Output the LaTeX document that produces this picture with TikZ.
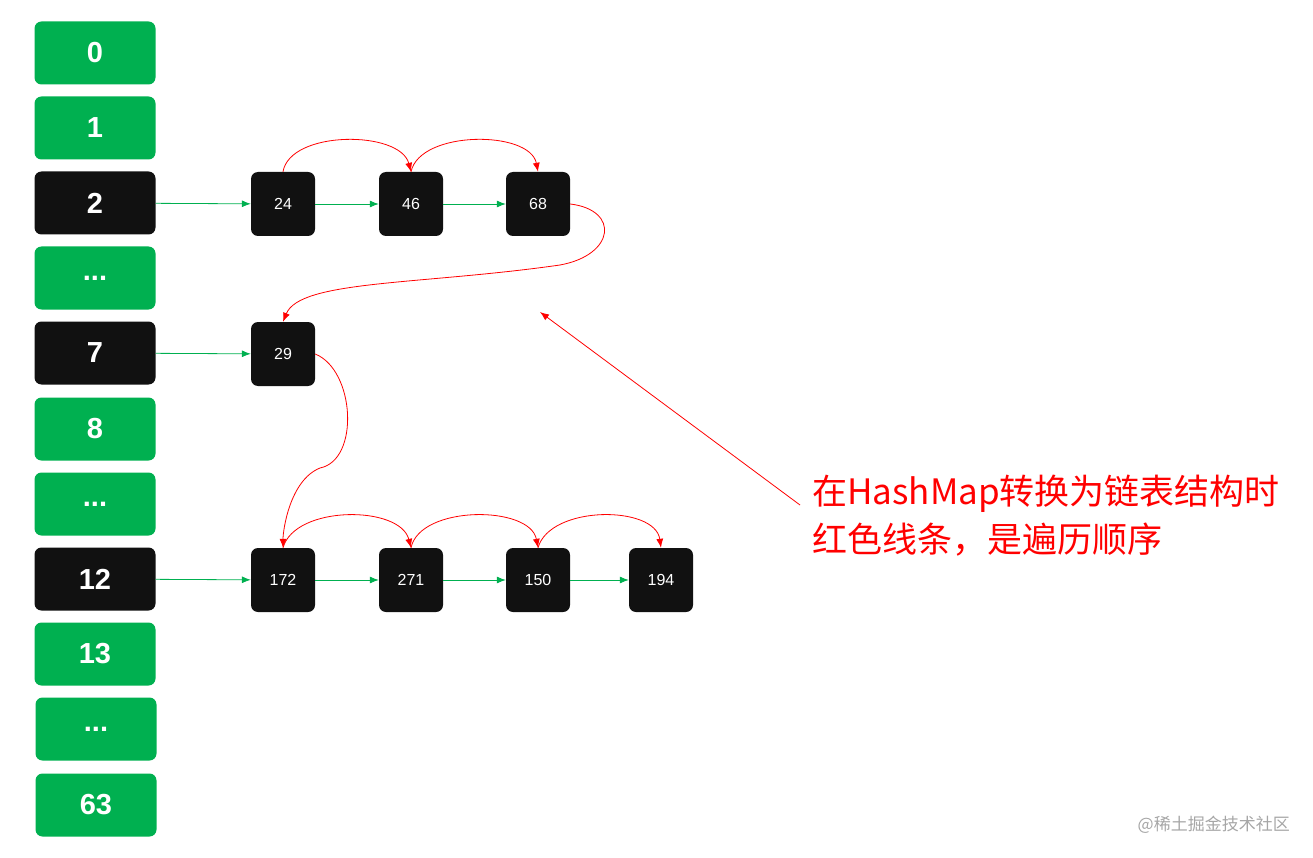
\documentclass[tikz,border=0pt]{standalone}
\usepackage{fontspec}
\setmainfont{Liberation Sans}
\newfontfamily\cjk{Noto Sans CJK SC}
\usetikzlibrary{arrows.meta}
\definecolor{gr}{HTML}{00B050}
\definecolor{bk}{HTML}{111111}
\begin{document}
\begin{tikzpicture}[x=1pt,y=-1pt,
 bucket/.style={rounded corners=7pt,minimum width=121pt,minimum height=63pt,inner sep=0pt,text=white,font=\fontsize{29}{29}\selectfont\bfseries},
 gb/.style={bucket,fill=gr},
 kb/.style={bucket,fill=bk},
 item/.style={rounded corners=7pt,fill=bk,minimum width=64pt,minimum height=64pt,inner sep=0pt,text=white,font=\fontsize{16}{16}\selectfont},
 garr/.style={draw=gr,line width=0.8pt,-{Latex[length=9pt,width=7pt]}},
 rarr/.style={draw=red,line width=0.8pt,-{Latex[length=9pt,width=7pt]}}]
\useasboundingbox (0,0) rectangle (1313,858);
\node[gb] (b0) at (95,53) {0};
\node[gb] (b1) at (95,128) {1};
\node[kb] (b2) at (95,203) {2};
\node[gb] (b3) at (95,278) {...};
\node[kb] (b7) at (95,353) {7};
\node[gb] (b8) at (95,429) {8};
\node[gb] (b9) at (95,504) {...};
\node[kb] (b12) at (95,579) {12};
\node[gb] (b13) at (95,654) {13};
\node[gb] (b14) at (96,729) {...};
\node[gb] (b63) at (96,805) {63};
\node[item] (n24) at (283,204) {24};
\node[item] (n46) at (411,204) {46};
\node[item] (n68) at (538,204) {68};
\node[item] (n29) at (283,354) {29};
\node[item] (n172) at (283,580) {172};
\node[item] (n271) at (411,580) {271};
\node[item] (n150) at (538,580) {150};
\node[item] (n194) at (661,580) {194};
\draw[garr] (b2) -- (n24);
\draw[garr] (n24) -- (n46);
\draw[garr] (n46) -- (n68);
\draw[garr] (b7) -- (n29);
\draw[garr] (b12) -- (n172);
\draw[garr] (n172) -- (n271);
\draw[garr] (n271) -- (n150);
\draw[garr] (n150) -- (n194);
\draw[rarr] (n24.north) .. controls (290,130) and (400,130) .. (n46.north);
\draw[rarr] (n46.north) .. controls (420,130) and (530,130) .. (n68.north);
\draw[rarr] (n68.east) .. controls (620,210) and (615,255) .. (560,265) .. controls (420,285) and (300,280) .. (n29.north);
\draw[rarr] (n29.east) .. controls (355,370) and (360,460) .. (320,468) .. controls (290,480) and (283,530) .. (n172.north);
\draw[rarr] (n172.north) .. controls (295,505) and (400,505) .. (n271.north);
\draw[rarr] (n271.north) .. controls (420,505) and (530,505) .. (n150.north);
\draw[rarr] (n150.north) .. controls (550,505) and (655,505) .. (n194.north);
\coordinate (tail) at (800,505);
\coordinate (head) at (540,312);
\draw[rarr] (tail) -- (head);
\node[anchor=west,text=red,font=\cjk\fontsize{35}{35}\selectfont,inner sep=0pt] (t1) at (812,494) {在HashMap转换为链表结构时};
\node[anchor=west,text=red,font=\cjk\fontsize{35}{35}\selectfont,inner sep=0pt] (t2) at (812,540) {红色线条，是遍历顺序};
\node[anchor=east,text=gray!70,font=\cjk\fontsize{17}{17}\selectfont,inner sep=0pt] (wm) at (1290,825) {@稀土掘金技术社区};
\end{tikzpicture}
\end{document}
